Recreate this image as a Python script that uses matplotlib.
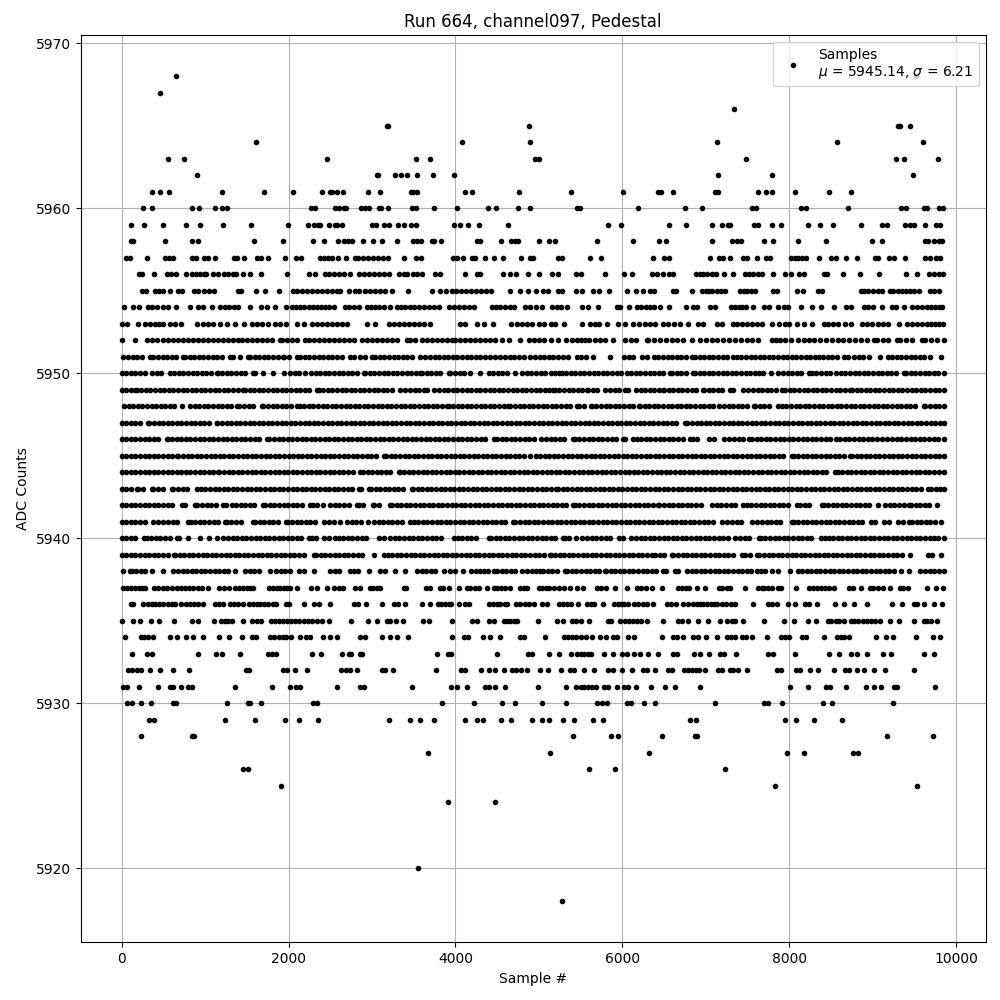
import matplotlib
matplotlib.use("Agg")
import matplotlib.pyplot as plt

adc_5968 = [656, 9525]
adc_5967 = [464]
adc_5966 = [7344]
adc_5965 = [3180, 3196, 4880, 9300, 9324, 9444]
adc_5964 = [1616, 4076, 4892, 7140, 8568, 9600]
adc_5963 = [560, 752, 2456, 3524, 3692, 4952, 5000, 7488, 9276, 9372, 9780]
adc_5962 = [908, 3060, 3076, 3272, 3348, 3416, 3536, 3728, 3980, 7152, 7800, 9480]
adc_5961 = [368, 464, 572, 1208, 1712, 2048, 2396, 2492, 2516, 2584, 2648, 2948, 3092, 3464, 3488, 3536, 4112, 4196, 4760,
            5388, 6012, 6432, 6468, 6612, 7116, 7152, 7632, 7728, 7800, 8064, 8472, 8736]
adc_5960 = [260, 368, 840, 932, 1124, 1208, 1268, 2264, 2312, 2552, 2600, 2660, 2692, 2864, 2912, 2960, 3080, 3112, 3188,
            3476, 3524, 3740, 4016, 4388, 4484, 4748, 4892, 5460, 5492, 6192, 6756, 6960, 7560, 7604, 8136, 8196, 8700,
            9336, 9396, 9612, 9648, 9792, 9840]
adc_5959 = [116, 272, 500, 776, 944, 1220, 1556, 1988, 2228, 2300, 2348, 2372, 2480, 2552, 2576, 2636, 2996, 3044, 3140,
            3200, 3308, 3380, 3464, 3524, 3980, 4052, 4148, 4280, 4628, 5832, 5988, 6564, 6768, 7080, 7200, 7272, 7296,
            7584, 7632, 7800, 7908, 8220, 8364, 8528, 8856, 9108, 9168, 9384, 9444, 9492, 9624, 9756, 9804]
adc_5958 = [116, 140, 524, 848, 920, 1592, 1928, 2288, 2420, 2588, 2660, 2708, 2756, 2888, 3008, 3116, 3296, 3488, 3536,
            3584, 3716, 3740, 3824, 4256, 4292, 4544, 4664, 4712, 4748, 5000, 5120, 5196, 5700, 6132, 6444, 6528, 7080,
            7320, 7372, 7428, 7704, 7812, 8100, 8436, 8988, 9108, 9624, 9660, 9732, 9792, 9835]
adc_5957 = [56, 104, 308, 524, 572, 620, 848, 896, 992, 1040, 1124, 1352, 1388, 1472, 1628, 1676, 1760, 1952, 2084, 2144,
            2372, 2420, 2468, 2516, 2588, 2684, 2792, 2828, 2888, 2948, 3008, 3068, 3128, 3188, 3380, 3524, 3584, 3968,
            4016, 4088, 4196, 4232, 4352, 4460, 4568, 4784, 4892, 4928, 5232, 5280, 5616, 5748, 6372, 6504, 6564, 7056,
            7164, 7212, 7296, 7452, 7500, 7620, 7728, 7776, 8028, 8070, 8110, 8150, 8196, 8352, 8496, 8556, 8676, 8808,
            9024, 9060, 9192, 9252, 9384, 9624, 9684, 9756, 9804]
adc_5956 = [212, 248, 392, 548, 596, 656, 776, 848, 896, 944, 992, 1016, 1100, 1160, 1232, 1280, 1340, 1376, 1460, 1544,
            1676, 1976, 2240, 2320, 2432, 2480, 2540, 2600, 2660, 2732, 2840, 2900, 2960, 3020, 3080, 3140, 3200, 3320,
            3380, 3420, 3488, 3540, 3600, 3752, 3820, 4112, 4256, 4292, 4568, 4652, 4724, 4868, 5000, 5160, 5232, 5448,
            5508, 5796, 6024, 6120, 6360, 6420, 6492, 6564, 6612, 6888, 6930, 6972, 7020, 7080, 7128, 7224, 7332, 7476,
            7516, 7572, 7630, 7680, 7812, 7956, 8028, 8112, 8172, 8412, 8448, 8640, 8844, 9072, 9396, 9528, 9672, 9732,
            9792, 9840]
adc_5955 = [248, 296, 404, 452, 500, 584, 680, 720, 872, 920, 992, 1052, 1112, 1400, 1436, 1616, 1724, 1880, 2048, 2100,
            2160, 2220, 2280, 2340, 2400, 2460, 2520, 2580, 2620, 2720, 2800, 2840, 2912, 2980, 3040, 3100, 3160, 3236,
            3428, 3716, 3812, 3884, 3956, 4010, 4070, 4130, 4190, 4250, 4310, 4370, 4430, 4660, 4780, 4868, 4964, 5044,
            5108, 5232, 5280, 5448, 5520, 5652, 5724, 5844, 6060, 6168, 6252, 6336, 6384, 6612, 6648, 6840, 6960, 7000,
            7040, 7080, 7130, 7180, 7228, 7416, 7460, 7500, 7540, 7590, 7812, 7860, 8088, 8160, 8340, 8388, 8856, 8900,
            8950, 9000, 9060, 9108, 9204, 9250, 9300, 9350, 9400, 9450, 9500, 9560, 9684, 9732, 9792]
adc_5954 = [32, 140, 212, 312, 360, 420, 500, 560, 656, 824, 920, 980, 1080, 1180, 1240, 1292, 1352, 1400, 1540, 1676,
            1740, 1840, 1964, 2040, 2090, 2140, 2190, 2240, 2290, 2340, 2390, 2440, 2490, 2540, 2680, 2730, 2790, 2850,
            2940, 2990, 3040, 3090, 3140, 3220, 3300, 3350, 3400, 3450, 3500, 3560, 3620, 3680, 3740, 3800, 3920, 3980,
            4040, 4100, 4160, 4220, 4440, 4490, 4540, 4600, 4660, 4700, 4840, 4900, 4960, 5040, 5152, 5212, 5260, 5332,
            5520, 5592, 5712, 5932, 5976, 6084, 6180, 6230, 6280, 6330, 6380, 6452, 6564, 6764, 6852, 6900, 7056, 7112,
            7304, 7350, 7400, 7440, 7488, 7572, 7704, 7764, 7872, 7944, 7992, 8136, 8268, 8376, 8532, 8676, 8744, 8892,
            8950, 9000, 9112, 9232, 9280, 9372, 9472, 9532, 9592, 9652, 9700, 9750, 9790, 9832]
adc_5953 = [8, 68, 200, 280, 340, 400, 452, 500, 580, 640, 708, 908, 980, 1040, 1100, 1180, 1260, 1364, 1472, 1560, 1620,
            1680, 1760, 1840, 1900, 1970, 2100, 2180, 2280, 2340, 2400, 2460, 2520, 2580, 2640, 2700, 2940, 3040, 3200,
            3260, 3320, 3380, 3440, 3500, 3560, 3620, 3700, 4060, 4120, 4260, 4340, 4448, 4664, 4740, 4800, 4860, 4920,
            5000, 5060, 5140, 5192, 5300, 5512, 5612, 5670, 5720, 5812, 5950, 6032, 6132, 6196, 6272, 6330, 6392, 6492,
            6552, 6624, 6692, 6792, 6912, 6972, 7140, 7192, 7324, 7380, 7440, 7500, 7560, 7620, 7680, 7792, 7884, 7950,
            8000, 8092, 8172, 8272, 8412, 8470, 8530, 8590, 8672, 8740, 8872, 8930, 8992, 9060, 9120, 9190, 9312, 9412,
            9470, 9530, 9590, 9650, 9700, 9750, 9800, 9845]
adc_5952 = [0, 160, 300, 360, 420, 500, 560, 620, 680, 740, 800, 860, 920, 980, 1040, 1100, 1160, 1220, 1280, 1340, 1400,
            1440, 1500, 1560, 1620, 1680, 1740, 1800, 1900, 1920, 1980, 2040, 2100, 2200, 2240, 2300, 2360, 2420, 2480,
            2540, 2600, 2660, 2720, 2780, 2880, 2940, 3000, 3060, 3120, 3180, 3240, 3300, 3420, 3460, 3520, 3600, 3660,
            3720, 3780, 3840, 3900, 3960, 4000, 4060, 4120, 4180, 4240, 4300, 4360, 4420, 4480, 4560, 4640, 4780, 4880,
            4940, 5000, 5060, 5150, 5232, 5330, 5400, 5460, 5510, 5550, 5600, 5672, 5732, 5792, 5892, 6032, 6100, 6160,
            6292, 6312, 6380, 6450, 6520, 6590, 6660, 6730, 6832, 6932, 7000, 7070, 7140, 7210, 7280, 7350, 7420, 7490,
            7560, 7630, 7792, 7840, 7892, 7950, 8020, 8110, 8172, 8232, 8300, 8370, 8440, 8510, 8580, 8650, 8720, 8790,
            8860, 8930, 9012, 9052, 9120, 9190, 9292, 9332, 9400, 9472, 9592, 9632, 9700, 9772, 9850]
adc_5951 = [20, 80, 135, 190, 245, 340, 380, 435, 490, 545, 600, 655, 740, 760, 815, 870, 925, 980, 1035, 1090, 1145, 1200,
            1300, 1340, 1420, 1520, 1540, 1595, 1650, 1705, 1760, 1815, 1870, 1930, 1950, 2005, 2100, 2140, 2195, 2250,
            2305, 2360, 2415, 2470, 2525, 2580, 2635, 2740, 2780, 2860, 2915, 3000, 3040, 3095, 3150, 3205, 3260, 3315,
            3370, 3425, 3480, 3580, 3640, 3695, 3750, 3805, 3860, 3915, 3970, 4025, 4080, 4135, 4190, 4245, 4300, 4355,
            4420, 4480, 4540, 4595, 4650, 4705, 4760, 4820, 4900, 4955, 5010, 5065, 5120, 5175, 5230, 5285, 5352, 5452,
            5510, 5565, 5652, 5852, 6020, 6075, 6130, 6232, 6292, 6380, 6432, 6487, 6542, 6597, 6652, 6707, 6762, 6832,
            6872, 6927, 6982, 7037, 7092, 7147, 7202, 7257, 7332, 7372, 7427, 7482, 7537, 7592, 7647, 7702, 7757, 7812,
            7867, 7922, 7977, 8032, 8087, 8142, 8197, 8252, 8312, 8352, 8407, 8462, 8517, 8572, 8652, 8700, 8780, 8835,
            8890, 8952, 9092, 9180, 9235, 9290, 9345, 9400, 9455, 9510, 9565, 9620, 9692, 9820]
adc_5950 = [0, 55, 110, 165, 220, 275, 360, 420, 475, 580, 630, 685, 740, 795, 850, 905, 960, 1015, 1070, 1140, 1150, 1205,
            1260, 1315, 1370, 1425, 1480, 1580, 1600, 1700, 1820, 1940, 2020, 2075, 2130, 2200, 2270, 2325, 2380, 2435,
            2490, 2545, 2600, 2655, 2710, 2765, 2820, 2900, 2920, 2975, 3030, 3085, 3140, 3195, 3250, 3305, 3360, 3415,
            3470, 3525, 3580, 3600, 3655, 3710, 3765, 3820, 3920, 3940, 3995, 4050, 4100, 4180, 4300, 4400, 4455, 4510,
            4560, 4620, 4720, 4800, 4855, 4910, 4965, 5020, 5075, 5140, 5195, 5244, 5272, 5327, 5382, 5437, 5492, 5547,
            5602, 5657, 5712, 5767, 5822, 5877, 5932, 5980, 6052, 6107, 6162, 6217, 6272, 6327, 6382, 6437, 6492, 6572,
            6592, 6652, 6707, 6762, 6852, 6872, 6927, 6982, 7037, 7092, 7147, 7202, 7257, 7312, 7367, 7422, 7477, 7532,
            7587, 7642, 7692, 7780, 7872, 7927, 7982, 8037, 8092, 8147, 8232, 8272, 8327, 8382, 8437, 8492, 8564, 8619,
            8674, 8729, 8784, 8839, 8894, 8949, 9004, 9059, 9114, 9169, 9224, 9279, 9372, 9404, 9459, 9514, 9569, 9624,
            9679, 9734, 9789, 9852]
adc_5949 = [0, 55, 110, 160, 180, 235, 290, 345, 400, 455, 510, 565, 620, 675, 730, 785, 840, 895, 950, 1005, 1060, 1115,
            1170, 1225, 1280, 1335, 1390, 1460, 1480, 1535, 1590, 1645, 1700, 1755, 1810, 1865, 1920, 1975, 2030, 2085,
            2140, 2195, 2250, 2340, 2360, 2415, 2470, 2525, 2580, 2635, 2690, 2745, 2800, 2855, 2910, 2965, 3020, 3075,
            3130, 3185, 3240, 3340, 3395, 3450, 3520, 3560, 3620, 3660, 3740, 3800, 3860, 3915, 3970, 4025, 4080, 4135,
            4190, 4245, 4300, 4355, 4410, 4465, 4520, 4575, 4630, 4685, 4740, 4795, 4850, 4905, 4960, 5015, 5070, 5125,
            5172, 5192, 5247, 5302, 5357, 5412, 5467, 5522, 5572, 5592, 5647, 5702, 5792, 5852, 5907, 5962, 6032, 6072,
            6164, 6219, 6274, 6329, 6384, 6439, 6492, 6500, 6555, 6610, 6665, 6720, 6775, 6830, 6885, 6972, 6980, 7035,
            7090, 7145, 7200, 7292, 7332, 7452, 7512, 7567, 7622, 7677, 7732, 7787, 7842, 7912, 7952, 8007, 8062, 8117,
            8172, 8227, 8282, 8337, 8392, 8447, 8502, 8557, 8612, 8667, 8724, 8752, 8807, 8862, 8917, 8972, 9027, 9082,
            9137, 9192, 9247, 9302, 9357, 9412, 9467, 9522, 9577, 9632, 9687, 9742, 9797, 9860]
adc_5948 = [28, 83, 138, 193, 248, 303, 358, 413, 468, 523, 578, 633, 720, 820, 875, 930, 985, 1040, 1095, 1150, 1205,
            1260, 1315, 1380, 1412, 1467, 1522, 1577, 1680, 1700, 1755, 1810, 1865, 1920, 1975, 2030, 2100, 2132, 2188,
            2243, 2298, 2353, 2408, 2463, 2518, 2573, 2628, 2683, 2738, 2793, 2848, 2903, 2958, 3013, 3068, 3123, 3178,
            3233, 3288, 3343, 3398, 3453, 3508, 3563, 3618, 3673, 3728, 3783, 3838, 3900, 3920, 3972, 4027, 4082, 4137,
            4192, 4247, 4302, 4357, 4412, 4467, 4522, 4577, 4628, 4660, 4715, 4770, 4825, 4880, 4935, 4990, 5045, 5100,
            5155, 5210, 5265, 5320, 5375, 5452, 5484, 5539, 5620, 5636, 5691, 5746, 5801, 5856, 5911, 5966, 6021, 6076,
            6131, 6204, 6212, 6267, 6322, 6377, 6432, 6487, 6542, 6597, 6652, 6707, 6762, 6817, 6872, 6927, 6982, 7037,
            7092, 7164, 7220, 7275, 7330, 7385, 7440, 7495, 7580, 7592, 7647, 7702, 7757, 7872, 7912, 7967, 8022, 8077,
            8132, 8187, 8242, 8297, 8352, 8407, 8462, 8517, 8572, 8627, 8682, 8737, 8792, 8847, 8902, 8957, 9012, 9067,
            9122, 9177, 9232, 9287, 9342, 9397, 9452, 9507, 9612, 9632, 9687, 9742, 9797, 9852]
adc_5947 = [0, 55, 110, 165, 220, 320, 332, 387, 442, 497, 552, 607, 662, 717, 772, 827, 882, 937, 992, 1047, 1140, 1148,
            1203, 1258, 1313, 1368, 1423, 1478, 1533, 1588, 1643, 1698, 1753, 1808, 1863, 1918, 1973, 2028, 2083, 2138,
            2193, 2248, 2303, 2358, 2413, 2468, 2523, 2578, 2633, 2688, 2743, 2798, 2853, 2908, 2963, 3018, 3073, 3128,
            3183, 3238, 3293, 3348, 3403, 3458, 3513, 3568, 3623, 3678, 3733, 3788, 3843, 3898, 3953, 4008, 4063, 4118,
            4173, 4228, 4283, 4338, 4393, 4448, 4503, 4558, 4613, 4668, 4723, 4778, 4833, 4888, 4943, 4998, 5053, 5108,
            5163, 5218, 5273, 5328, 5383, 5438, 5493, 5548, 5603, 5658, 5713, 5768, 5823, 5878, 5933, 5988, 6043, 6098,
            6153, 6208, 6263, 6318, 6373, 6428, 6483, 6538, 6593, 6648, 6752, 6780, 6835, 6890, 6945, 7000, 7055, 7110,
            7165, 7220, 7275, 7330, 7385, 7440, 7495, 7550, 7605, 7660, 7715, 7770, 7825, 7880, 7935, 7990, 8045, 8100,
            8155, 8210, 8265, 8320, 8375, 8430, 8485, 8540, 8595, 8650, 8705, 8760, 8815, 8870, 8925, 8980, 9035, 9090,
            9145, 9200, 9255, 9310, 9365, 9420, 9475, 9530, 9585, 9640, 9695, 9750, 9805, 9860]
adc_5946 = [0, 55, 110, 165, 220, 275, 330, 385, 440, 540, 560, 604, 659, 714, 769, 824, 879, 934, 989, 1044, 1099, 1154,
            1209, 1264, 1319, 1374, 1429, 1484, 1539, 1594, 1649, 1740, 1772, 1827, 1882, 1937, 1992, 2047, 2102, 2157,
            2212, 2267, 2322, 2377, 2432, 2487, 2542, 2597, 2652, 2707, 2762, 2817, 2872, 2927, 2982, 3037, 3092, 3147,
            3202, 3257, 3312, 3367, 3422, 3477, 3532, 3587, 3642, 3697, 3752, 3807, 3862, 3917, 3972, 4027, 4082, 4137,
            4192, 4247, 4302, 4357, 4460, 4500, 4555, 4610, 4665, 4720, 4775, 4830, 4885, 4940, 5020, 5080, 5140, 5195,
            5250, 5305, 5412, 5432, 5487, 5542, 5597, 5652, 5707, 5762, 5817, 5872, 5927, 6012, 6032, 6124, 6172, 6227,
            6282, 6337, 6392, 6447, 6502, 6557, 6612, 6667, 6722, 6812, 6852, 6892, 7044, 7099, 7220, 7284, 7339, 7394,
            7449, 7524, 7556, 7611, 7666, 7721, 7776, 7831, 7886, 7941, 7996, 8051, 8106, 8161, 8216, 8271, 8326, 8381,
            8436, 8491, 8564, 8612, 8667, 8722, 8777, 8832, 8887, 8942, 8997, 9052, 9107, 9172, 9236, 9291, 9346, 9401,
            9456, 9511, 9566, 9621, 9676, 9731, 9786, 9860]
adc_5945 = [0, 55, 110, 165, 220, 275, 330, 385, 440, 495, 550, 605, 660, 680, 735, 790, 845, 900, 955, 1010, 1065, 1120,
            1175, 1230, 1285, 1340, 1395, 1450, 1505, 1560, 1615, 1670, 1725, 1780, 1835, 1890, 1945, 2000, 2055, 2110,
            2165, 2220, 2275, 2330, 2385, 2440, 2495, 2550, 2605, 2660, 2715, 2770, 2825, 2880, 2935, 2990, 3045, 3140,
            3172, 3227, 3282, 3337, 3392, 3447, 3502, 3557, 3612, 3667, 3722, 3777, 3832, 3887, 3942, 3997, 4052, 4107,
            4162, 4217, 4272, 4327, 4382, 4437, 4492, 4547, 4602, 4657, 4712, 4767, 4822, 4900, 4960, 5015, 5070, 5125,
            5180, 5235, 5290, 5345, 5400, 5455, 5510, 5565, 5620, 5675, 5730, 5785, 5840, 5895, 5950, 6005, 6060, 6115,
            6170, 6225, 6280, 6335, 6390, 6445, 6500, 6555, 6610, 6665, 6720, 6775, 6830, 6885, 6940, 6995, 7050, 7105,
            7160, 7215, 7270, 7325, 7380, 7435, 7490, 7545, 7600, 7655, 7710, 7765, 7820, 7875, 7930, 8032, 8052, 8107,
            8162, 8217, 8272, 8327, 8382, 8437, 8492, 8547, 8602, 8657, 8724, 8752, 8807, 8862, 8917, 8972, 9027, 9082,
            9137, 9192, 9247, 9302, 9357, 9412, 9467, 9522, 9577, 9632, 9687, 9742, 9797, 9860]
adc_5944 = [0, 55, 110, 165, 220, 275, 330, 385, 440, 495, 550, 605, 660, 715, 770, 825, 880, 935, 990, 1045, 1100, 1160,
            1172, 1227, 1282, 1337, 1392, 1447, 1502, 1557, 1612, 1667, 1722, 1777, 1832, 1887, 1942, 1997, 2052, 2107,
            2162, 2217, 2272, 2327, 2382, 2437, 2492, 2547, 2602, 2657, 2712, 2767, 2860, 2892, 2947, 3002, 3057, 3112,
            3167, 3222, 3320, 3332, 3387, 3442, 3497, 3552, 3607, 3662, 3717, 3772, 3827, 3882, 3937, 3992, 4047, 4102,
            4157, 4212, 4267, 4322, 4377, 4432, 4487, 4542, 4597, 4652, 4707, 4762, 4817, 4872, 4927, 4982, 5037, 5092,
            5147, 5202, 5257, 5312, 5367, 5422, 5477, 5532, 5587, 5642, 5697, 5752, 5807, 5862, 5917, 5972, 6027, 6082,
            6137, 6192, 6247, 6302, 6357, 6412, 6467, 6522, 6577, 6632, 6687, 6742, 6797, 6852, 6907, 6962, 7017, 7072,
            7127, 7182, 7237, 7292, 7347, 7402, 7457, 7512, 7567, 7622, 7677, 7732, 7787, 7842, 7897, 7952, 8007, 8062,
            8117, 8172, 8227, 8282, 8337, 8392, 8447, 8552, 8580, 8635, 8690, 8745, 8800, 8855, 8910, 8965, 9020, 9075,
            9130, 9185, 9240, 9295, 9350, 9405, 9460, 9515, 9570, 9625, 9680, 9735, 9790, 9860]
adc_5943 = [0, 55, 110, 180, 200, 255, 360, 380, 435, 490, 600, 620, 675, 730, 785, 908, 948, 1003, 1058, 1113, 1168, 1223,
            1278, 1333, 1388, 1443, 1498, 1553, 1608, 1663, 1718, 1773, 1828, 1883, 1938, 1993, 2048, 2103, 2158, 2213,
            2268, 2323, 2378, 2433, 2488, 2543, 2598, 2653, 2708, 2763, 2840, 2868, 2960, 2988, 3043, 3098, 3153, 3208,
            3263, 3318, 3373, 3480, 3492, 3547, 3602, 3657, 3712, 3767, 3822, 3877, 3932, 3987, 4042, 4097, 4152, 4207,
            4262, 4317, 4372, 4427, 4482, 4537, 4592, 4647, 4702, 4757, 4812, 4867, 4922, 4977, 5032, 5087, 5142, 5204,
            5232, 5287, 5342, 5397, 5452, 5507, 5562, 5617, 5672, 5727, 5782, 5837, 5892, 5947, 6002, 6057, 6112, 6167,
            6222, 6277, 6332, 6387, 6442, 6497, 6552, 6607, 6662, 6717, 6772, 6827, 6882, 6937, 6992, 7047, 7102, 7157,
            7212, 7267, 7322, 7377, 7432, 7487, 7542, 7597, 7652, 7707, 7762, 7817, 7872, 7927, 7982, 8037, 8092, 8147,
            8202, 8257, 8312, 8367, 8422, 8477, 8532, 8587, 8642, 8697, 8752, 8807, 8862, 8917, 8972, 9027, 9082, 9137,
            9192, 9247, 9302, 9357, 9412, 9467, 9522, 9577, 9660, 9700, 9755, 9810, 9860]
adc_5942 = [0, 55, 110, 165, 220, 275, 330, 385, 440, 495, 550, 605, 720, 760, 880, 908, 963, 1018, 1073, 1128, 1220, 1252,
            1320, 1372, 1427, 1482, 1537, 1592, 1700, 1720, 1775, 1830, 1885, 1940, 1995, 2050, 2105, 2160, 2260, 2292,
            2347, 2412, 2500, 2555, 2610, 2665, 2720, 2820, 2840, 2895, 3012, 3028, 3083, 3212, 3240, 3295, 3350, 3405,
            3460, 3515, 3570, 3625, 3680, 3735, 3790, 3845, 3900, 3955, 4010, 4065, 4120, 4175, 4230, 4285, 4340, 4395,
            4450, 4505, 4560, 4615, 4670, 4725, 4780, 4835, 4890, 4945, 5000, 5055, 5110, 5165, 5220, 5275, 5330, 5412,
            5432, 5487, 5542, 5597, 5652, 5707, 5762, 5817, 5872, 5927, 5982, 6037, 6092, 6147, 6202, 6257, 6312, 6367,
            6432, 6444, 6499, 6554, 6609, 6664, 6719, 6774, 6829, 6884, 6939, 7072, 7132, 7187, 7242, 7297, 7352, 7452,
            7492, 7547, 7602, 7657, 7712, 7767, 7822, 7877, 7932, 7987, 8092, 8132, 8187, 8242, 8392, 8412, 8467, 8522,
            8577, 8632, 8687, 8742, 8797, 8852, 8907, 8962, 9060, 9152, 9207, 9262, 9317, 9372, 9432, 9460, 9515, 9570,
            9625, 9680, 9772]
adc_5941 = [0, 55, 110, 165, 220, 275, 380, 440, 500, 555, 610, 665, 800, 828, 883, 938, 993, 1048, 1103, 1158, 1240, 1260,
            1315, 1370, 1425, 1572, 1600, 1655, 1710, 1765, 1820, 1875, 1972, 1988, 2043, 2098, 2153, 2208, 2263, 2318,
            2428, 2480, 2540, 2620, 2700, 2755, 2810, 2865, 2948, 3028, 3080, 3135, 3190, 3245, 3300, 3355, 3460, 3500,
            3555, 3610, 3665, 3720, 3775, 3830, 3885, 3940, 3995, 4050, 4105, 4160, 4215, 4270, 4325, 4380, 4435, 4490,
            4545, 4600, 4692, 4720, 4775, 4830, 4885, 4940, 4995, 5050, 5105, 5160, 5215, 5270, 5325, 5380, 5435, 5490,
            5545, 5600, 5655, 5710, 5765, 5820, 5875, 5930, 5985, 6040, 6095, 6150, 6205, 6260, 6315, 6370, 6425, 6480,
            6535, 6590, 6645, 6700, 6755, 6810, 6865, 6920, 6975, 7030, 7085, 7192, 7260, 7315, 7370, 7425, 7552, 7620,
            7675, 7730, 7785, 7840, 7895, 8032, 8052, 8107, 8162, 8217, 8272, 8327, 8382, 8437, 8492, 8547, 8602, 8657,
            8712, 8767, 8822, 8877, 8980, 9032, 9140, 9195, 9300, 9364, 9432, 9472, 9527, 9582, 9637, 9692, 9747, 9820]
adc_5940 = [0, 55, 110, 165, 268, 300, 355, 410, 465, 520, 575, 660, 692, 800, 940, 1052, 1140, 1220, 1275, 1330, 1385,
            1440, 1495, 1550, 1605, 1660, 1715, 1770, 1825, 1880, 1935, 1990, 2045, 2100, 2155, 2240, 2280, 2335, 2420,
            2480, 2560, 2600, 2655, 2710, 2765, 2820, 2875, 2930, 3080, 3140, 3220, 3275, 3330, 3385, 3440, 3495, 3550,
            3605, 3660, 3715, 3770, 3825, 3980, 4028, 4080, 4135, 4190, 4245, 4400, 4428, 4483, 4538, 4593, 4648, 4703,
            4758, 4813, 4868, 4923, 4978, 5033, 5088, 5143, 5198, 5284, 5312, 5367, 5444, 5512, 5580, 5635, 5690, 5745,
            5800, 5855, 5964, 6004, 6104, 6164, 6219, 6274, 6329, 6384, 6439, 6494, 6549, 6604, 6659, 6714, 6769, 6824,
            6879, 6934, 6989, 7044, 7099, 7154, 7209, 7264, 7352, 7412, 7467, 7522, 7644, 7660, 7715, 7770, 7825, 7880,
            7935, 7990, 8045, 8100, 8155, 8210, 8265, 8380, 8428, 8472, 8527, 8582, 8637, 8692, 8747, 8802, 8857, 8912,
            8967, 9022, 9077, 9132, 9187, 9242, 9297, 9352, 9407, 9462, 9517, 9572, 9627, 9682, 9737, 9780, 9852]
adc_5939 = [0, 55, 110, 165, 220, 275, 330, 385, 440, 495, 550, 628, 640, 695, 750, 805, 860, 915, 970, 1025, 1080, 1135,
            1190, 1245, 1300, 1355, 1410, 1465, 1520, 1575, 1630, 1685, 1740, 1795, 1850, 1905, 1960, 2015, 2070, 2125,
            2180, 2300, 2332, 2387, 2442, 2497, 2552, 2607, 2662, 2717, 2772, 2827, 2882, 3020, 3148, 3188, 3243, 3298,
            3353, 3408, 3463, 3518, 3573, 3628, 3683, 3738, 3793, 3848, 3903, 3958, 4013, 4068, 4123, 4178, 4233, 4288,
            4343, 4398, 4453, 4508, 4563, 4618, 4673, 4728, 4783, 4838, 4893, 4948, 5003, 5058, 5132, 5140, 5195, 5250,
            5305, 5360, 5415, 5470, 5525, 5580, 5635, 5690, 5745, 5800, 5855, 5910, 5965, 6020, 6075, 6130, 6185, 6240,
            6295, 6352, 6392, 6447, 6502, 6592, 6612, 6667, 6722, 6777, 6832, 6887, 6942, 6997, 7052, 7107, 7162, 7217,
            7272, 7327, 7432, 7472, 7527, 7612, 7644, 7699, 7754, 7809, 7864, 7919, 7974, 8029, 8084, 8139, 8194, 8249,
            8304, 8359, 8414, 8469, 8524, 8579, 8634, 8689, 8744, 8799, 8854, 8909, 8964, 9019, 9074, 9129, 9184, 9239,
            9294, 9349, 9444, 9660, 9715, 9820]
adc_5938 = [20, 100, 120, 175, 230, 285, 360, 500, 620, 675, 730, 785, 840, 895, 950, 1005, 1060, 1115, 1170, 1225, 1280,
            1360, 1480, 1535, 1590, 1645, 1780, 1852, 1907, 1962, 2017, 2120, 2180, 2300, 2500, 2555, 2610, 2740, 2780,
            2835, 2960, 3100, 3155, 3280, 3400, 3540, 3595, 3650, 3705, 3760, 3860, 3940, 3995, 4092, 4188, 4243, 4300,
            4340, 4395, 4460, 4500, 4555, 4610, 4665, 4720, 4800, 4860, 4915, 4970, 5012, 5052, 5107, 5162, 5217, 5312,
            5340, 5395, 5450, 5505, 5560, 5615, 5670, 5725, 5792, 5804, 5859, 5914, 5969, 6024, 6079, 6134, 6189, 6244,
            6299, 6354, 6409, 6492, 6524, 6632, 6672, 6772, 6832, 6887, 6942, 6997, 7052, 7107, 7162, 7217, 7272, 7327,
            7382, 7437, 7492, 7547, 7612, 7660, 7715, 7792, 7872, 8012, 8100, 8155, 8210, 8265, 8320, 8375, 8430, 8485,
            8540, 8595, 8650, 8705, 8760, 8815, 8870, 8925, 8980, 9035, 9090, 9145, 9200, 9255, 9340, 9432, 9572, 9627,
            9682, 9737, 9792, 9852]
adc_5937 = [12, 60, 110, 160, 210, 250, 284, 392, 440, 490, 540, 608, 660, 710, 760, 810, 860, 920, 960, 1040, 1172, 1232,
            1292, 1364, 1410, 1450, 1500, 1540, 1580, 1772, 1820, 1860, 1900, 1940, 1980, 2020, 2100, 2264, 2336, 2456,
            2540, 2600, 2648, 2792, 2860, 2972, 3010, 3060, 3100, 3380, 3412, 3644, 3700, 3812, 3850, 3928, 4040, 4140,
            4180, 4230, 4280, 4376, 4460, 4500, 4550, 4600, 4650, 4772, 4820, 4860, 5000, 5040, 5090, 5120, 5180, 5240,
            5300, 5372, 5460, 5532, 5700, 5750, 5810, 5912, 6052, 6172, 6220, 6280, 6360, 6480, 6672, 6710, 6760, 6800,
            6900, 6992, 7164, 7200, 7256, 7296, 7476, 7632, 7670, 7700, 7750, 7800, 7870, 7900, 8084, 8232, 8280, 8330,
            8380, 8430, 8480, 8540, 8712, 8770, 8860, 8964, 9010, 9060, 9120, 9210, 9324, 9370, 9420, 9648, 9756, 9840]
adc_5936 = [112, 140, 260, 310, 360, 400, 450, 500, 550, 600, 644, 716, 770, 820, 870, 920, 980, 1124, 1170, 1220, 1304,
            1350, 1390, 1460, 1532, 1580, 1620, 1660, 1710, 1760, 1810, 1850, 1964, 2000, 2184, 2300, 2360, 2492, 2780,
            2828, 2924, 3116, 3260, 3308, 3392, 3596, 3700, 3788, 3830, 3880, 3920, 3944, 4040, 4112, 4160, 4400, 4450,
            4500, 4540, 4590, 4620, 4724, 4780, 4830, 4880, 4940, 5040, 5100, 5244, 5290, 5340, 5380, 5472, 5580, 5620,
            5660, 5772, 5904, 5950, 5990, 6020, 6070, 6140, 6192, 6250, 6300, 6372, 6532, 6580, 6640, 6732, 6790, 6850,
            6892, 6930, 6970, 7020, 7060, 7100, 7140, 7200, 7240, 7300, 7350, 7572, 7752, 7800, 7852, 7992, 8072, 8192,
            8240, 8332, 8544, 8660, 8772, 8928, 9228, 9348, 9492, 9530, 9612, 9732, 9828]
adc_5935 = [0, 140, 224, 356, 452, 632, 848, 920, 1112, 1196, 1240, 1280, 1320, 1456, 1568, 1620, 1676, 1796, 1840, 1880,
            1930, 1980, 2028, 2080, 2130, 2180, 2230, 2280, 2340, 2400, 2480, 2744, 2948, 3056, 3176, 3212, 3284, 3368,
            3608, 3680, 3956, 4196, 4256, 4400, 4460, 4580, 4620, 4660, 4700, 4740, 4984, 5212, 5292, 5400, 5440, 5500,
            5604, 5832, 5868, 5976, 6030, 6080, 6130, 6180, 6220, 6300, 6492, 6672, 6720, 6792, 6912, 7032, 7176, 7260,
            7310, 7350, 7452, 7704, 7944, 8052, 8220, 8316, 8460, 8500, 8560, 8600, 8652, 8736, 8780, 8830, 8880, 8930,
            8980, 9030, 9090, 9204, 9320, 9500, 9612, 9650, 9700, 9772]
adc_5934 = [44, 236, 272, 320, 380, 584, 668, 776, 860, 980, 1172, 1292, 1448, 1568, 1616, 1784, 1830, 1880, 1930, 1975,
            2030, 2132, 2204, 2252, 2408, 2492, 2576, 2852, 2920, 3116, 3212, 3296, 3428, 3956, 4100, 4148, 4328, 4412,
            4532, 4772, 4820, 5072, 5304, 5350, 5400, 5450, 5500, 5560, 5632, 5736, 5808, 5892, 5940, 6072, 6144, 6476,
            6612, 6660, 6732, 6852, 6912, 7008, 7140, 7260, 7304, 7356, 7436, 7480, 7552, 7732, 7908, 7950, 7996, 8148,
            8196, 8412, 8572, 8620, 8660, 8720, 9036, 9156, 9240, 9516, 9720, 9804]
adc_5933 = [128, 308, 368, 920, 1136, 1208, 1424, 1760, 1808, 1844, 2276, 2384, 2636, 2720, 2744, 2852, 2880, 3780, 3908,
            3944, 4496, 4868, 4924, 5124, 5244, 5380, 5460, 5500, 5540, 5590, 5628, 5784, 5892, 6000, 6060, 6144, 6212,
            6312, 6432, 6612, 6660, 6864, 6936, 7044, 7176, 7224, 7368, 7752, 7812, 8064, 8472, 8592, 8736, 8812, 8928,
            9120, 9216, 9612, 9732]
adc_5932 = [80, 128, 180, 236, 344, 464, 620, 812, 1496, 1532, 1928, 1980, 2072, 2216, 2624, 2684, 2732, 2816, 3116, 3152,
            3248, 3764, 4064, 4112, 4304, 4400, 4472, 4580, 4676, 4730, 4790, 4860, 5012, 5112, 5268, 5372, 5424, 5544,
            5664, 5832, 5892, 6000, 6120, 6252, 6300, 6396, 6552, 6600, 6744, 6790, 6840, 6880, 6920, 6996, 7152, 7200,
            7296, 7332, 7392, 7500, 7860, 7908, 8076, 8124, 8244, 8340, 8532, 8664, 8712, 8808, 8892, 9012, 9144, 9492]
adc_5931 = [20, 60, 212, 440, 584, 620, 716, 800, 840, 1364, 1808, 2012, 2084, 2132, 2576, 2852, 2900, 3476, 3944, 4016,
            4136, 4352, 4400, 4472, 4592, 4988, 5328, 5448, 5500, 5540, 5590, 5640, 5680, 5784, 5832, 5940, 6024, 6072,
            6164, 6348, 6516, 6636, 6936, 8016, 8220, 8436, 8484, 8676, 8916, 9012, 9096, 9252, 9288, 9744]
adc_5930 = [68, 128, 236, 356, 620, 656, 1268, 1520, 1540, 1676, 2288, 2340, 3836, 4220, 4556, 4712, 5036, 5324, 5700,
            5760, 5820, 6060, 6108, 6264, 6396, 7116, 7704, 7752, 7920, 8400, 8508, 9240]
adc_5929 = [332, 392, 1244, 1604, 1952, 2120, 2348, 3200, 3452, 3572, 3740, 4112, 4256, 4328, 4544, 4664, 4916, 5036, 5116,
            5292, 5424, 5652, 5772, 6816, 6888, 7956, 8076, 8292, 8628]
adc_5928 = [236, 848, 872, 5412, 5868, 5952, 6480, 6876, 6900, 9168, 9720]
adc_5927 = [3668, 5128, 6324, 7980, 8172, 8760, 8820]
adc_5926 = [1460, 1520, 5604, 5916, 7236]
adc_5925 = [1904, 7836, 9528]
adc_5924 = [3908, 4472]
adc_5920 = [3548]
adc_5918 = [5280]

levels = [
    (5968, adc_5968), (5967, adc_5967), (5966, adc_5966), (5965, adc_5965), (5964, adc_5964), (5963, adc_5963),
    (5962, adc_5962), (5961, adc_5961), (5960, adc_5960), (5959, adc_5959), (5958, adc_5958), (5957, adc_5957),
    (5956, adc_5956), (5955, adc_5955), (5954, adc_5954), (5953, adc_5953), (5952, adc_5952), (5951, adc_5951),
    (5950, adc_5950), (5949, adc_5949), (5948, adc_5948), (5947, adc_5947), (5946, adc_5946), (5945, adc_5945),
    (5944, adc_5944), (5943, adc_5943), (5942, adc_5942), (5941, adc_5941), (5940, adc_5940), (5939, adc_5939),
    (5938, adc_5938), (5937, adc_5937), (5936, adc_5936), (5935, adc_5935), (5934, adc_5934), (5933, adc_5933),
    (5932, adc_5932), (5931, adc_5931), (5930, adc_5930), (5929, adc_5929), (5928, adc_5928), (5927, adc_5927),
    (5926, adc_5926), (5925, adc_5925), (5924, adc_5924), (5920, adc_5920), (5918, adc_5918),
]

xs = []
ys = []
for level, samples in levels:
    xs.extend(samples)
    ys.extend([level] * len(samples))

fig, ax = plt.subplots(figsize=(10, 10), dpi=100)
ax.plot(xs, ys, "k.", label="Samples\n$\\mu$ = 5945.14, $\\sigma$ = 6.21")
ax.set_title("Run 664, channel097, Pedestal")
ax.set_xlabel("Sample #")
ax.set_ylabel("ADC Counts")
ax.grid(True)
ax.legend(loc="upper right")
fig.subplots_adjust(left=0.0805, right=0.9855, top=0.965, bottom=0.0577)
fig.savefig("out.png")
